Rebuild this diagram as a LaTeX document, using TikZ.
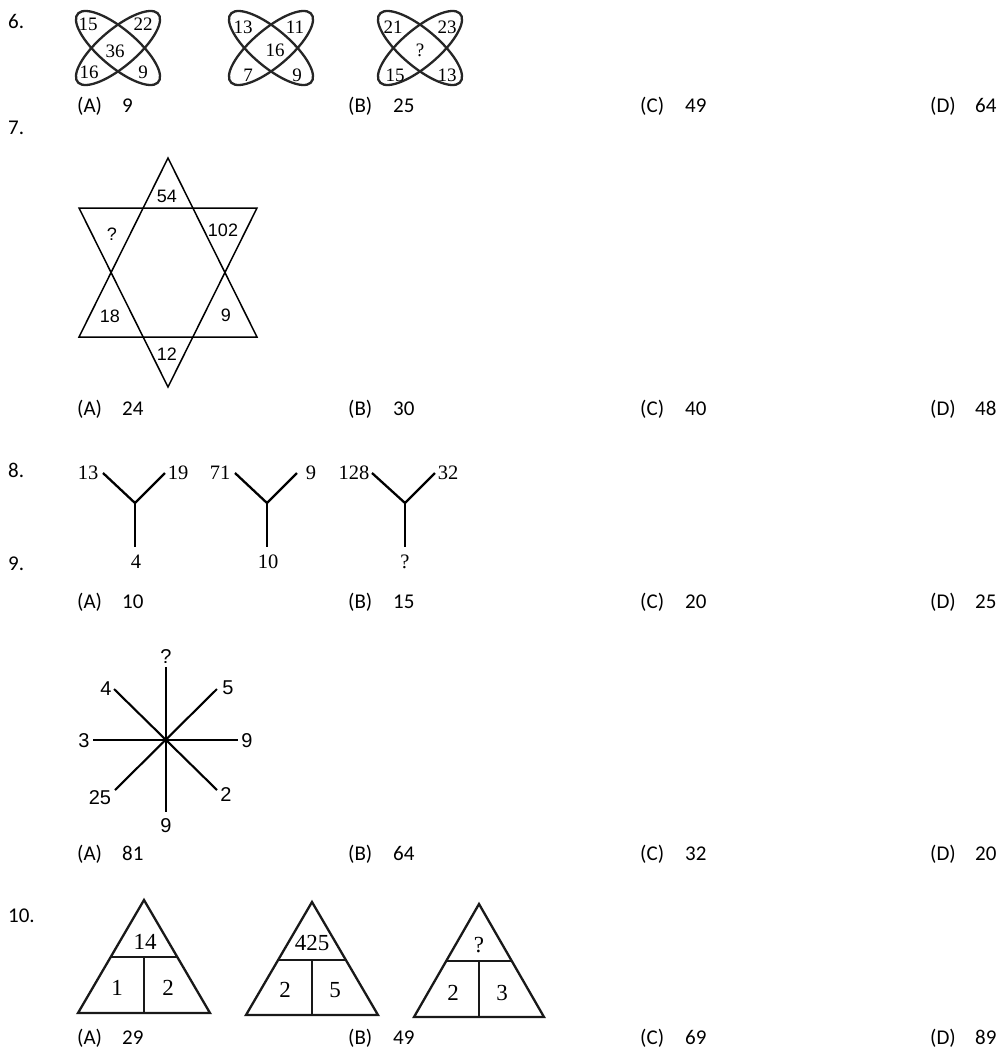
\documentclass[tikz,border=0pt]{standalone}
\usepackage{fontspec}
\setmainfont{Liberation Serif}
\newfontfamily\calfont{Carlito}
\newfontfamily\arialfont{Liberation Sans}
\newcommand\optrow[6]{%
 \node[opt] (o#1A) at (77,#2) {(A)};
 \node[opt] (o#1a) at (122,#2) {#3};
 \node[opt] (o#1B) at (348,#2) {(B)};
 \node[opt] (o#1b) at (393,#2) {#4};
 \node[opt] (o#1C) at (640,#2) {(C)};
 \node[opt] (o#1c) at (685,#2) {#5};
 \node[opt] (o#1D) at (930,#2) {(D)};
 \node[opt] (o#1d) at (975,#2) {#6};
}
\newcommand\myflower[2]{%
 \begin{scope}[shift={(#1,#2)}, yscale=0.88]
  \draw[flline, rotate=45] (0,0) ellipse [x radius=56pt, y radius=20pt];
  \draw[flline, rotate=-45] (0,0) ellipse [x radius=56pt, y radius=20pt];
 \end{scope}}
\begin{document}
\begin{tikzpicture}[x=1pt,y=-1pt,
  opt/.style={font=\calfont\fontsize{21}{24}\selectfont, anchor=base west, inner sep=0pt},
  flnum/.style={font=\fontsize{19}{21}\selectfont, inner sep=0pt},
  flline/.style={line width=2.3pt, black!85},
  stline/.style={line width=1.5pt},
  stnum/.style={font=\arialfont\fontsize{18}{20}\selectfont, inner sep=0pt},
  yline/.style={line width=2.3pt},
  ynum/.style={font=\fontsize{20.5}{22}\selectfont, inner sep=0pt},
  rline/.style={line width=2.1pt},
  rnum/.style={font=\arialfont\fontsize{20}{22}\selectfont, inner sep=0pt},
  tline/.style={line width=2.3pt, black!90},
  tnum/.style={font=\fontsize{23}{25}\selectfont, inner sep=0pt}
]
\useasboundingbox[fill=white] (0,0) rectangle (1008,1050);

% question numbers
\node[opt] (q6) at (8,28) {6.};
\node[opt] (q7) at (8,134) {7.};
\node[opt] (q8) at (8,477) {8.};
\node[opt] (q9) at (8,570) {9.};
\node[opt] (q10) at (8,922) {10.};

% options
\optrow{6}{112}{9}{25}{49}{64}
\optrow{7}{415}{24}{30}{40}{48}
\optrow{8}{608}{10}{15}{20}{25}
\optrow{9}{860}{81}{64}{32}{20}
\optrow{10}{1044}{29}{49}{69}{89}

% Q6 flowers
\myflower{118}{48}
\myflower{271}{48}
\myflower{420}{48}
\node[flnum] (f1a) at (88,24) {15};
\node[flnum] (f1b) at (143,24) {22};
\node[flnum] (f1c) at (115,51) {36};
\node[flnum] (f1d) at (89,72) {16};
\node[flnum] (f1e) at (143,72) {9};
\node[flnum] (f2a) at (243,27) {13};
\node[flnum] (f2b) at (295,27) {11};
\node[flnum] (f2c) at (275,50) {16};
\node[flnum] (f2d) at (248,75) {7};
\node[flnum] (f2e) at (297,75) {9};
\node[flnum] (f3a) at (393,27) {21};
\node[flnum] (f3b) at (447,27) {23};
\node[flnum] (f3c) at (420,50) {?};
\node[flnum] (f3d) at (395,75) {15};
\node[flnum] (f3e) at (447,75) {13};

% Q7 star
\draw[stline] (168,158) -- (257,337) -- (79,337) -- cycle;
\draw[stline] (79,208) -- (257,208) -- (168,387) -- cycle;
\node[stnum] (s1) at (167,196) {54};
\node[stnum] (s2) at (112,234) {?};
\node[stnum] (s3) at (223,230) {102};
\node[stnum] (s4) at (110,316) {18};
\node[stnum] (s5) at (226,315) {9};
\node[stnum] (s6) at (167,354) {12};

% Q8 Y shapes
\coordinate (y1l) at (103,473); \coordinate (y1c) at (135,503);
\coordinate (y1r) at (165,473); \coordinate (y1b) at (135,547);
\draw[yline] (y1l) -- (y1c) -- (y1r); \draw[yline] (y1c) -- (y1b);
\coordinate (y2l) at (235,473); \coordinate (y2c) at (267,503);
\coordinate (y2r) at (297,473); \coordinate (y2b) at (267,547);
\draw[yline] (y2l) -- (y2c) -- (y2r); \draw[yline] (y2c) -- (y2b);
\coordinate (y3l) at (372,473); \coordinate (y3c) at (405,503);
\coordinate (y3r) at (435,473); \coordinate (y3b) at (405,547);
\draw[yline] (y3l) -- (y3c) -- (y3r); \draw[yline] (y3c) -- (y3b);
\node[ynum] (n13) at (88,473) {13};
\node[ynum] (n19) at (178,473) {19};
\node[ynum] (n4) at (136,562) {4};
\node[ynum] (n71) at (220,473) {71};
\node[ynum] (n9) at (311,473) {9};
\node[ynum] (n10) at (268,562) {10};
\node[ynum] (n128) at (354,473) {128};
\node[ynum] (n32) at (448,473) {32};
\node[ynum] (nq) at (405,562) {?};

% Q9 rays
\coordinate (rc) at (166,740);
\coordinate (rt) at (166,667); \coordinate (rb) at (166,812);
\coordinate (rl) at (93,740); \coordinate (rr) at (238,740);
\coordinate (rul) at (114,689); \coordinate (rur) at (217,689);
\coordinate (rll) at (115,790); \coordinate (rlr) at (217,790);
\draw[rline] (rc) -- (rt); \draw[rline] (rc) -- (rb);
\draw[rline, line width=2.7pt] (rl) -- (rr);
\draw[rline] (rul) -- (rlr); \draw[rline] (rur) -- (rll);
\node[rnum] (rq) at (166,657) {?};
\node[rnum] (r3) at (84,741) {3};
\node[rnum] (r9a) at (247,741) {9};
\node[rnum] (r4) at (106,689) {4};
\node[rnum] (r5) at (228,688) {5};
\node[rnum] (r25) at (100,798) {25};
\node[rnum] (r2) at (226,795) {2};
\node[rnum] (r9b) at (166,826) {9};

% Q10 triangles
\draw[tline] (144,900) -- (210,1013) -- (78,1013) -- cycle;
\draw[tline] (110.7,957) -- (177.3,957);
\draw[tline] (144,957) -- (144,1013);
\node[tnum] (t1a) at (145,942) {14};
\node[tnum] (t1b) at (117,988) {1};
\node[tnum] (t1c) at (168,988) {2};
\draw[tline] (312,902) -- (378,1015) -- (246,1015) -- cycle;
\draw[tline] (278.1,960) -- (345.9,960);
\draw[tline] (312,960) -- (312,1015);
\node[tnum] (t2a) at (312,943) {425};
\node[tnum] (t2b) at (285,990) {2};
\node[tnum] (t2c) at (335,990) {5};
\draw[tline] (479,904) -- (544,1017) -- (414,1017) -- cycle;
\draw[tline] (446.2,961) -- (511.8,961);
\draw[tline] (479,961) -- (479,1017);
\node[tnum] (t3a) at (479,945) {?};
\node[tnum] (t3b) at (453,993) {2};
\node[tnum] (t3c) at (502,993) {3};
\end{tikzpicture}
\end{document}
